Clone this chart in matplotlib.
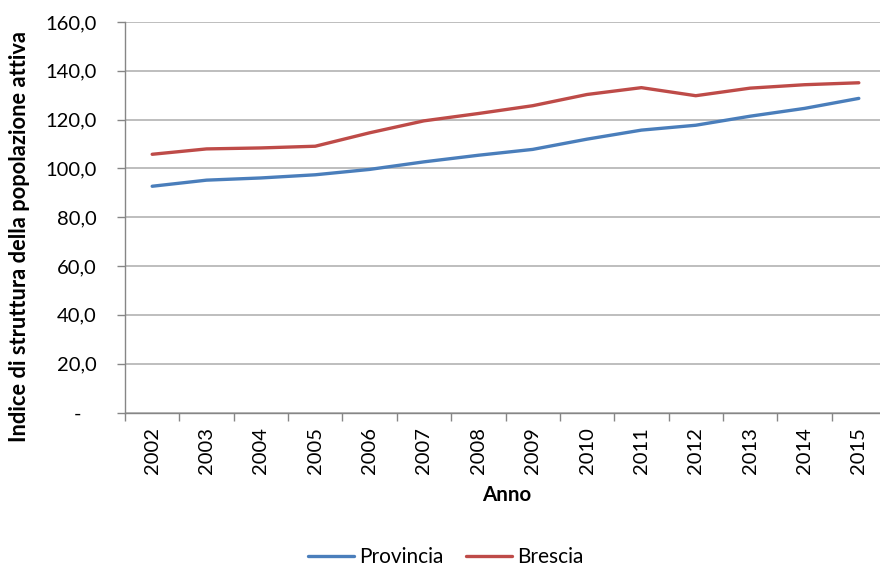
import matplotlib
matplotlib.use("Agg")
import matplotlib.pyplot as plt
from matplotlib.ticker import FixedLocator, FuncFormatter

years = ["2002", "2003", "2004", "2005", "2006", "2007", "2008",
         "2009", "2010", "2011", "2012", "2013", "2014", "2015"]
provincia = [92.7, 95.2, 96.1, 97.4, 99.6, 102.7, 105.4,
             107.8, 112.0, 115.7, 117.7, 121.4, 124.6, 128.7]
brescia = [105.8, 108.0, 108.4, 109.1, 114.6, 119.5, 122.5,
           125.7, 130.3, 133.1, 129.8, 132.9, 134.3, 135.1]
yticks = [0, 20, 40, 60, 80, 100, 120, 140, 160]

plt.rcParams['font.family'] = ['Lato', 'DejaVu Sans']

fig = plt.figure(figsize=(8.8, 5.69), dpi=100)
ax = fig.add_axes([125/880, 1-412.5/569, 761/880, (412.5-22)/569])

x = list(range(len(years)))
ax.plot(x, provincia, color='#4a7ebb', lw=2.4, label='Provincia', solid_capstyle='round')
ax.plot(x, brescia, color='#be4b48', lw=2.4, label='Brescia', solid_capstyle='round')

ax.set_xlim(-0.5, len(years) - 0.5)
ax.set_ylim(0, 160)

ax.set_yticks(yticks)
def yfmt(v, pos):
    if abs(v) < 1e-9:
        return "-   "
    return f"{v:.1f}".replace(".", ",")
ax.yaxis.set_major_formatter(FuncFormatter(yfmt))
ax.set_xticks(x)
ax.set_xticklabels(years, rotation=90)
ax.xaxis.set_minor_locator(FixedLocator([i - 0.5 for i in range(len(years) + 1)]))

ax.tick_params(axis='x', which='major', length=0, pad=10.5, labelsize=14.5, labelcolor='#000000')
ax.tick_params(axis='x', which='minor', length=6, width=1, color='#868686', direction='out')
ax.tick_params(axis='y', which='major', length=6, width=1, color='#868686', direction='out',
               pad=14.5, labelsize=14.5, labelcolor='#000000')

ax.grid(axis='y', color='#b3b3b3', lw=1.2)
ax.set_axisbelow(True)
for s in ['top', 'right']:
    ax.spines[s].set_visible(False)
for s in ['left', 'bottom']:
    ax.spines[s].set_color('#868686')
    ax.spines[s].set_linewidth(1.0)

ylab = fig.text(20/880, 1-237/569, "Indice di struttura della popolazione attiva", rotation=90,
                ha='center', va='center', fontsize=14.4, fontweight='bold')
fig.canvas.draw()
h = ylab.get_window_extent(renderer=fig.canvas.get_renderer()).height
ylab.set_fontsize(14.4 * 412.0 / h)

fig.text(507/880, 1-495/569, "Anno", ha='center', va='center', fontsize=14.8, fontweight='bold')

leg = fig.legend(loc='center', bbox_to_anchor=(446/880, 1-557/569), ncol=2, frameon=False,
                 fontsize=15, handlelength=2.2, handletextpad=0.25, columnspacing=1.1)

fig.savefig("out.png", dpi=100)
